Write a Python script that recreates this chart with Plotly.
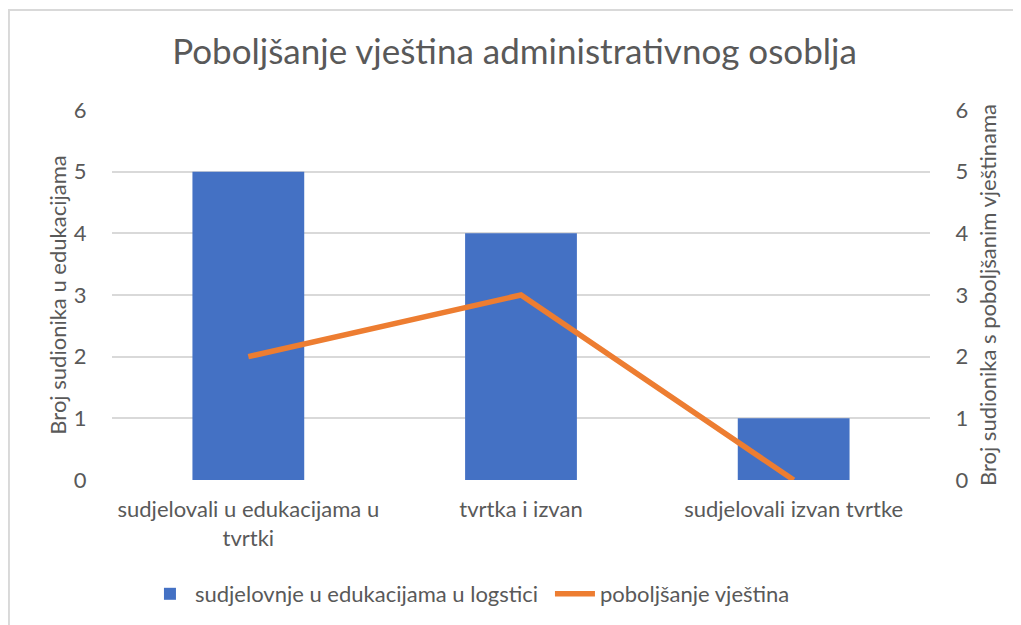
import plotly.graph_objects as go

# podaci s grafikona
categories = ["sudjelovali u edukacijama u<br>tvrtki", "tvrtka i izvan", "sudjelovali izvan tvrtke"]
edukacije = [5, 4, 1]
poboljsanje = [2, 3, 0]
y_ticks = [0, 1, 2, 3, 4, 5, 6]

FONT = "Lato"
GREY = "#595959"
FS = 22

fig = go.Figure()

fig.add_trace(go.Bar(
    x=categories, y=edukacije,
    name="sudjelovnje u edukacijama u logstici",
    marker=dict(color="#4471C4", line=dict(width=0)),
    width=0.41,
))

fig.add_trace(go.Scatter(
    x=categories, y=poboljsanje,
    name="poboljšanje vještina",
    mode="lines",
    line=dict(color="#ED7D31", width=5.5),
    yaxis="y2",
))

# stranica dodaje ~8px ruba, pa je figura malo manja
fig.update_layout(
    width=1013, height=617,
    paper_bgcolor="white", plot_bgcolor="white",
    margin=dict(l=104, r=91, t=102, b=145),
    font=dict(family=FONT, color=GREY, size=FS),
    title=dict(
        text="Poboljšanje vještina administrativnog osoblja",
        x=0.5, xanchor="center", y=1 - 44 / 617, yanchor="middle",
        yref="container",
        font=dict(size=35, color=GREY, family=FONT),
    ),
    xaxis=dict(
        showgrid=False, showline=False, zeroline=False, automargin=False,
        ticks="outside", ticklen=10, tickcolor="rgba(0,0,0,0)",
        tickfont=dict(size=FS, color=GREY),
    ),
    yaxis=dict(
        range=[0, 6], tickvals=y_ticks, automargin=False,
        showgrid=True, gridcolor="#D9D9D9", gridwidth=1.5,
        zeroline=False, showline=False,
        ticks="outside", ticklen=20, tickcolor="rgba(0,0,0,0)",
        tickfont=dict(size=FS, color=GREY),
        title=dict(text="Broj sudionika u edukacijama", standoff=1,
                   font=dict(size=FS, color=GREY)),
    ),
    yaxis2=dict(
        range=[0, 6], tickvals=y_ticks, overlaying="y", side="right",
        showgrid=False, zeroline=False, showline=False, automargin=False,
        ticks="outside", ticklen=20, tickcolor="rgba(0,0,0,0)",
        tickfont=dict(size=FS, color=GREY),
        title=dict(text="Broj sudionika s poboljšanim vještinama", standoff=13,
                   font=dict(size=FS, color=GREY)),
    ),
    legend=dict(
        orientation="h", xref="container", yref="container",
        x=0.535, xanchor="center", y=1 - 586 / 617, yanchor="middle",
        font=dict(size=FS, color=GREY), itemwidth=40, entrywidth=350,
    ),
    showlegend=True,
)

# okvir grafikona
fig.add_shape(
    type="rect", xref="paper", yref="paper",
    x0=-0.126, x1=1.2, y0=-0.45, y1=1.27,
    line=dict(color="#D9D9D9", width=2), layer="below",
)

fig.write_html("out.html")
